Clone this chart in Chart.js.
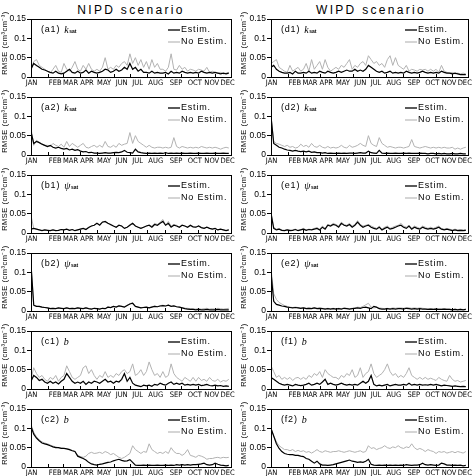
<!DOCTYPE html>
<html>
<head>
<meta charset="utf-8">
<script src="https://cdn.jsdelivr.net/npm/chart.js@4.4.1/dist/chart.umd.min.js"></script>
<style>
  body { margin: 0; background: #fff; width: 475px; height: 476px; position: relative; overflow: hidden; }
  .title { position: absolute; top: 3px; font: 12px "Liberation Sans", Arial, sans-serif; letter-spacing: 2.3px; text-align: center; width: 200px; }
  canvas { position: absolute; }
</style>
</head>
<body>
<div class="title" style="left:31px">NIPD scenario</div>
<div class="title" style="left:271px">WIPD scenario</div>

<script>
// sample days (every 5th day of the year)
const days = [1,6,11,16,21,26,31,36,41,46,51,56,61,66,71,76,81,86,91,96,101,106,111,116,121,126,131,136,141,146,151,156,161,166,171,176,181,186,191,196,201,206,211,216,221,226,231,236,241,246,251,256,261,266,271,276,281,286,291,296,301,306,311,316,321,326,331,336,341,346,351,356,361];

const months = ['JAN','FEB','MAR','APR','MAY','JUN','JUL','AUG','SEP','OCT','NOV','DEC'];
const monthStarts = [1,32,60,91,121,152,182,213,244,274,305,335];
const monthLabelDays = [2,45,73,103,134,166,195,228,265,299,330,359];
const yTicks = [0, 0.05, 0.1, 0.15];

// NIPD scenario
const a1Est = [0.02,0.035,0.03,0.025,0.02,0.018, 0.015,0.012,0.01,0.015,0.01,0.008, 0.01,0.015,0.02,0.012,0.01,0.015, 0.01,0.012,0.018,0.01,0.015,0.012, 0.01,0.012,0.015,0.02,0.018,0.012, 0.015,0.02,0.015,0.018,0.025,0.02, 0.035,0.02,0.025,0.015,0.02,0.012, 0.012,0.01,0.015,0.01,0.012,0.01, 0.01,0.012,0.008,0.015,0.01,0.012, 0.01,0.015,0.012,0.01,0.012,0.01, 0.012,0.01,0.015,0.012,0.01,0.012, 0.01,0.012,0.01,0.008,0.01,0.008,0.01];
const a1NoEst = [0.02,0.04,0.045,0.03,0.025,0.02, 0.015,0.01,0.02,0.03,0.015,0.012, 0.035,0.02,0.015,0.025,0.04,0.02, 0.015,0.03,0.02,0.035,0.02,0.015, 0.02,0.015,0.025,0.05,0.02,0.025, 0.02,0.03,0.025,0.035,0.04,0.03, 0.06,0.035,0.05,0.03,0.045,0.025, 0.04,0.02,0.045,0.025,0.035,0.02, 0.02,0.015,0.025,0.06,0.02,0.018, 0.03,0.02,0.025,0.015,0.02,0.018, 0.015,0.02,0.018,0.015,0.025,0.012, 0.015,0.012,0.01,0.012,0.008,0.01,0.012];

const a2Est = [0.06,0.03,0.035,0.032,0.028,0.025, 0.022,0.025,0.02,0.018,0.02,0.017, 0.015,0.017,0.013,0.015,0.012,0.014, 0.01,0.008,0.009,0.006,0.007,0.005, 0.005,0.004,0.005,0.006,0.005,0.005, 0.006,0.007,0.006,0.008,0.012,0.007, 0.006,0.005,0.015,0.008,0.006,0.005, 0.004,0.005,0.004,0.005,0.004,0.005, 0.004,0.006,0.004,0.005,0.004,0.005, 0.004,0.005,0.004,0.004,0.005,0.004, 0.004,0.005,0.004,0.004,0.005,0.004, 0.004,0.005,0.004,0.004,0.005,0.004,0.004];
const a2NoEst = [0.07,0.025,0.038,0.033,0.028,0.025, 0.025,0.022,0.03,0.025,0.022,0.028, 0.02,0.035,0.022,0.03,0.025,0.02, 0.025,0.03,0.02,0.018,0.022,0.025, 0.02,0.025,0.02,0.035,0.022,0.02, 0.025,0.02,0.03,0.025,0.028,0.03, 0.058,0.03,0.05,0.035,0.03,0.025, 0.02,0.025,0.02,0.018,0.02,0.02, 0.018,0.02,0.018,0.02,0.045,0.022, 0.018,0.022,0.02,0.018,0.02,0.018, 0.02,0.018,0.022,0.02,0.018,0.02, 0.018,0.02,0.018,0.015,0.018,0.02,0.018];

const b1Est = [0.01,0.012,0.01,0.008,0.006,0.008, 0.007,0.006,0.008,0.006,0.007,0.009, 0.008,0.01,0.007,0.009,0.006,0.008, 0.01,0.012,0.009,0.014,0.018,0.02, 0.025,0.02,0.028,0.03,0.025,0.022, 0.018,0.015,0.02,0.018,0.012,0.015, 0.02,0.025,0.018,0.015,0.012,0.015, 0.018,0.02,0.015,0.022,0.02,0.025, 0.03,0.02,0.025,0.015,0.02,0.018, 0.015,0.02,0.018,0.015,0.02,0.016, 0.015,0.018,0.014,0.012,0.015,0.012, 0.01,0.012,0.008,0.01,0.008,0.006,0.008];
const b1NoEst = [0.045,0.012,0.01,0.008,0.006,0.008, 0.007,0.006,0.008,0.006,0.007,0.009, 0.008,0.01,0.007,0.009,0.006,0.008, 0.01,0.012,0.01,0.015,0.018,0.02, 0.025,0.022,0.03,0.028,0.025,0.02, 0.018,0.015,0.02,0.018,0.012,0.015, 0.022,0.025,0.018,0.015,0.012,0.015, 0.018,0.02,0.018,0.025,0.022,0.028, 0.035,0.02,0.03,0.018,0.022,0.02, 0.015,0.02,0.018,0.015,0.018,0.016, 0.015,0.018,0.014,0.012,0.015,0.012, 0.01,0.012,0.008,0.01,0.008,0.006,0.008];

const b2Est = [0.12,0.015,0.012,0.012,0.01,0.009, 0.008,0.006,0.007,0.006,0.008,0.007, 0.006,0.008,0.006,0.007,0.006,0.008, 0.007,0.006,0.008,0.006,0.005,0.007, 0.006,0.005,0.007,0.006,0.01,0.009, 0.012,0.01,0.013,0.012,0.01,0.014, 0.018,0.02,0.012,0.01,0.008,0.009, 0.01,0.008,0.01,0.012,0.011,0.013, 0.014,0.013,0.015,0.012,0.013,0.011, 0.01,0.008,0.006,0.005,0.004,0.004, 0.003,0.004,0.003,0.003,0.004,0.003, 0.003,0.003,0.004,0.003,0.003,0.003,0.003];
const b2NoEst = [0.12,0.014,0.012,0.011,0.01,0.009, 0.008,0.007,0.007,0.006,0.008,0.007, 0.006,0.009,0.006,0.007,0.006,0.009, 0.007,0.006,0.009,0.006,0.005,0.007, 0.006,0.005,0.007,0.006,0.011,0.009, 0.012,0.011,0.013,0.012,0.01,0.015, 0.019,0.021,0.012,0.01,0.008,0.01, 0.01,0.008,0.011,0.013,0.011,0.014, 0.015,0.013,0.016,0.012,0.013,0.011, 0.01,0.009,0.007,0.007,0.006,0.006, 0.005,0.006,0.005,0.006,0.007,0.005, 0.006,0.005,0.007,0.006,0.005,0.006,0.007];

const c1Est = [0.02,0.035,0.03,0.022,0.025,0.018, 0.015,0.02,0.015,0.018,0.013,0.02, 0.025,0.04,0.03,0.02,0.015,0.018, 0.015,0.02,0.012,0.018,0.015,0.02, 0.018,0.015,0.02,0.025,0.018,0.02, 0.015,0.02,0.018,0.025,0.04,0.02, 0.03,0.015,0.01,0.008,0.006,0.01, 0.008,0.01,0.007,0.012,0.01,0.015, 0.012,0.01,0.015,0.018,0.012,0.015, 0.012,0.015,0.01,0.012,0.01,0.012, 0.01,0.012,0.009,0.01,0.012,0.009, 0.008,0.01,0.008,0.009,0.007,0.008,0.007];
const c1NoEst = [0.025,0.055,0.04,0.03,0.035,0.025, 0.02,0.03,0.025,0.035,0.02,0.03, 0.035,0.06,0.045,0.03,0.025,0.03, 0.035,0.055,0.06,0.04,0.05,0.035, 0.025,0.035,0.03,0.045,0.03,0.035, 0.03,0.04,0.035,0.045,0.05,0.04, 0.045,0.065,0.035,0.04,0.05,0.035, 0.045,0.07,0.05,0.035,0.04,0.03, 0.045,0.03,0.035,0.065,0.04,0.03, 0.025,0.02,0.03,0.025,0.02,0.03, 0.02,0.03,0.022,0.025,0.02,0.03, 0.022,0.02,0.025,0.018,0.022,0.02,0.025];

const c2Est = [0.105,0.085,0.075,0.068,0.062,0.06, 0.058,0.055,0.052,0.05,0.05,0.048, 0.048,0.047,0.045,0.042,0.04,0.028, 0.025,0.022,0.018,0.012,0.008,0.006, 0.005,0.007,0.008,0.01,0.012,0.013, 0.016,0.018,0.02,0.017,0.015,0.016, 0.019,0.012,0.005,0.004,0.004,0.005, 0.004,0.005,0.004,0.004,0.005,0.004, 0.004,0.005,0.004,0.005,0.004,0.006, 0.005,0.006,0.005,0.006,0.005,0.006, 0.006,0.007,0.008,0.01,0.006,0.005, 0.006,0.01,0.007,0.005,0.004,0.003,0.004];
const c2NoEst = [0.11,0.09,0.078,0.07,0.065,0.062, 0.06,0.057,0.054,0.052,0.05,0.049, 0.048,0.047,0.046,0.043,0.04,0.03, 0.027,0.025,0.028,0.035,0.038,0.035, 0.036,0.038,0.035,0.04,0.037,0.032, 0.035,0.03,0.025,0.022,0.025,0.03, 0.035,0.055,0.045,0.04,0.035,0.04, 0.038,0.06,0.045,0.04,0.035,0.038, 0.035,0.04,0.035,0.05,0.04,0.035, 0.035,0.03,0.035,0.045,0.03,0.028, 0.025,0.03,0.028,0.025,0.02,0.022, 0.022,0.024,0.025,0.023,0.025,0.024,0.025];

// WIPD scenario
const d1Est = [0.025,0.03,0.02,0.015,0.012,0.01, 0.01,0.012,0.008,0.015,0.01,0.01, 0.012,0.01,0.015,0.01,0.012,0.01, 0.015,0.012,0.01,0.015,0.012,0.01, 0.012,0.015,0.012,0.015,0.018,0.015, 0.015,0.02,0.015,0.018,0.015,0.02, 0.03,0.025,0.02,0.015,0.012,0.015, 0.01,0.012,0.015,0.01,0.012,0.01, 0.012,0.01,0.015,0.012,0.01,0.012, 0.01,0.012,0.015,0.012,0.01,0.012, 0.01,0.012,0.01,0.015,0.012,0.01, 0.01,0.008,0.01,0.008,0.006,0.006,0.006];
const d1NoEst = [0.035,0.04,0.045,0.025,0.02,0.015, 0.012,0.03,0.015,0.02,0.025,0.015, 0.02,0.035,0.015,0.045,0.02,0.03, 0.04,0.02,0.045,0.025,0.015,0.02, 0.025,0.02,0.03,0.025,0.035,0.045, 0.02,0.03,0.025,0.035,0.04,0.03, 0.055,0.045,0.035,0.04,0.03,0.035, 0.025,0.045,0.055,0.03,0.05,0.03, 0.025,0.02,0.03,0.015,0.02,0.018, 0.015,0.02,0.018,0.02,0.015,0.02, 0.015,0.02,0.012,0.03,0.015,0.012, 0.01,0.012,0.008,0.01,0.008,0.01,0.008];

const d2Est = [0.1,0.03,0.025,0.02,0.018,0.015, 0.013,0.012,0.01,0.012,0.01,0.009, 0.01,0.008,0.01,0.007,0.008,0.006, 0.006,0.005,0.006,0.004,0.005,0.004, 0.004,0.005,0.004,0.005,0.004,0.005, 0.005,0.004,0.005,0.006,0.005,0.005, 0.01,0.006,0.005,0.004,0.012,0.005, 0.004,0.005,0.004,0.004,0.005,0.004, 0.004,0.005,0.004,0.005,0.004,0.004, 0.004,0.005,0.004,0.004,0.003,0.004, 0.004,0.003,0.004,0.003,0.004,0.003, 0.003,0.004,0.003,0.003,0.004,0.003,0.003];
const d2NoEst = [0.1,0.035,0.03,0.028,0.025,0.022, 0.025,0.02,0.022,0.018,0.02,0.028, 0.022,0.025,0.02,0.03,0.022,0.02, 0.025,0.02,0.018,0.022,0.018,0.02, 0.018,0.02,0.025,0.02,0.018,0.025, 0.02,0.022,0.025,0.03,0.025,0.022, 0.05,0.03,0.025,0.022,0.045,0.03, 0.025,0.02,0.022,0.02,0.018,0.02, 0.02,0.018,0.02,0.022,0.04,0.022, 0.02,0.018,0.02,0.022,0.02,0.018, 0.02,0.018,0.02,0.018,0.02,0.018, 0.018,0.02,0.015,0.018,0.015,0.018,0.02];

const e1Est = [0.05,0.012,0.008,0.01,0.007,0.006, 0.008,0.006,0.007,0.009,0.006,0.008, 0.01,0.007,0.009,0.008,0.01,0.012, 0.008,0.015,0.01,0.02,0.018,0.022, 0.02,0.015,0.025,0.02,0.018,0.022, 0.015,0.02,0.028,0.02,0.015,0.018, 0.02,0.015,0.012,0.01,0.015,0.008, 0.012,0.015,0.01,0.012,0.015,0.018, 0.02,0.015,0.012,0.018,0.01,0.015, 0.012,0.01,0.015,0.012,0.01,0.012, 0.01,0.012,0.015,0.01,0.008,0.01, 0.008,0.006,0.008,0.006,0.007,0.006,0.007];
const e1NoEst = [0.055,0.015,0.01,0.012,0.008,0.007, 0.009,0.008,0.008,0.01,0.007,0.009, 0.012,0.008,0.01,0.009,0.012,0.014, 0.01,0.018,0.012,0.022,0.02,0.025, 0.022,0.018,0.028,0.022,0.02,0.025, 0.018,0.022,0.032,0.022,0.018,0.02, 0.022,0.018,0.015,0.012,0.018,0.01, 0.015,0.018,0.012,0.015,0.018,0.02, 0.025,0.018,0.015,0.02,0.012,0.018, 0.015,0.012,0.018,0.015,0.012,0.015, 0.012,0.015,0.018,0.012,0.01,0.012, 0.01,0.008,0.01,0.008,0.009,0.008,0.009];

const e2Est = [0.1,0.025,0.017,0.015,0.013,0.012, 0.01,0.009,0.008,0.009,0.008,0.007, 0.008,0.006,0.007,0.006,0.008,0.006, 0.007,0.006,0.005,0.006,0.005,0.006, 0.005,0.006,0.005,0.007,0.006,0.005, 0.006,0.007,0.008,0.007,0.009,0.01, 0.008,0.006,0.012,0.01,0.006,0.005, 0.005,0.006,0.005,0.006,0.005,0.006, 0.006,0.005,0.007,0.006,0.005,0.006, 0.005,0.006,0.005,0.005,0.004,0.005, 0.004,0.005,0.004,0.004,0.005,0.004, 0.004,0.003,0.004,0.003,0.004,0.003,0.004];
const e2NoEst = [0.11,0.045,0.03,0.022,0.018,0.014, 0.012,0.01,0.009,0.01,0.009,0.008, 0.009,0.007,0.008,0.007,0.009,0.007, 0.008,0.007,0.006,0.007,0.006,0.007, 0.006,0.007,0.006,0.008,0.007,0.006, 0.007,0.008,0.01,0.009,0.012,0.016, 0.02,0.01,0.008,0.009,0.008,0.007, 0.006,0.007,0.006,0.008,0.007,0.008, 0.008,0.007,0.009,0.008,0.007,0.008, 0.007,0.008,0.007,0.006,0.005,0.006, 0.005,0.006,0.005,0.005,0.006,0.005, 0.005,0.004,0.005,0.004,0.005,0.004,0.005];

const f1Est = [0.03,0.025,0.02,0.015,0.012,0.01, 0.012,0.01,0.008,0.012,0.01,0.009, 0.01,0.012,0.015,0.01,0.012,0.015, 0.012,0.018,0.025,0.012,0.015,0.012, 0.01,0.012,0.015,0.012,0.01,0.012, 0.01,0.012,0.01,0.015,0.02,0.015, 0.02,0.035,0.012,0.008,0.01,0.008, 0.01,0.012,0.008,0.01,0.012,0.01, 0.01,0.012,0.01,0.015,0.01,0.012, 0.01,0.012,0.01,0.011,0.01,0.012, 0.01,0.012,0.01,0.008,0.01,0.009, 0.008,0.007,0.008,0.007,0.006,0.007,0.006];
const f1NoEst = [0.06,0.045,0.03,0.035,0.025,0.03, 0.025,0.03,0.022,0.028,0.03,0.025, 0.03,0.025,0.035,0.03,0.04,0.035, 0.045,0.03,0.05,0.04,0.035,0.03, 0.03,0.025,0.035,0.03,0.04,0.035, 0.05,0.03,0.035,0.055,0.03,0.04, 0.045,0.065,0.04,0.03,0.035,0.04, 0.05,0.065,0.045,0.035,0.04,0.03, 0.035,0.03,0.04,0.055,0.035,0.03, 0.025,0.03,0.025,0.03,0.025,0.028, 0.025,0.022,0.03,0.025,0.022,0.02, 0.035,0.025,0.02,0.022,0.018,0.02,0.022];

const f2Est = [0.1,0.08,0.06,0.048,0.04,0.035, 0.033,0.032,0.032,0.03,0.03,0.028, 0.027,0.022,0.02,0.015,0.01,0.015, 0.008,0.005,0.005,0.004,0.005,0.006, 0.008,0.01,0.012,0.014,0.016,0.018, 0.015,0.014,0.012,0.013,0.012,0.015, 0.02,0.007,0.005,0.004,0.005,0.004, 0.005,0.004,0.005,0.004,0.005,0.004, 0.005,0.004,0.006,0.005,0.004,0.005, 0.005,0.006,0.01,0.006,0.005,0.006, 0.005,0.004,0.005,0.01,0.008,0.005, 0.005,0.004,0.005,0.004,0.005,0.003,0.004];
const f2NoEst = [0.1,0.08,0.065,0.055,0.05,0.045, 0.045,0.042,0.045,0.04,0.043,0.04, 0.042,0.038,0.04,0.036,0.04,0.045, 0.04,0.038,0.042,0.04,0.038,0.04, 0.04,0.042,0.04,0.038,0.04,0.042, 0.04,0.038,0.04,0.042,0.038,0.04, 0.055,0.048,0.05,0.045,0.048,0.05, 0.055,0.05,0.048,0.052,0.05,0.055, 0.05,0.048,0.052,0.05,0.06,0.05, 0.045,0.048,0.045,0.04,0.045,0.042, 0.04,0.035,0.04,0.038,0.04,0.036, 0.038,0.04,0.037,0.04,0.038,0.036,0.04];

const panels = [
  { id: 'a1', col: 0, row: 0, sym: 'k', est: a1Est, noEst: a1NoEst },
  { id: 'a2', col: 0, row: 1, sym: 'k', est: a2Est, noEst: a2NoEst },
  { id: 'b1', col: 0, row: 2, sym: 'ψ', est: b1Est, noEst: b1NoEst },
  { id: 'b2', col: 0, row: 3, sym: 'ψ', est: b2Est, noEst: b2NoEst },
  { id: 'c1', col: 0, row: 4, sym: 'b', est: c1Est, noEst: c1NoEst },
  { id: 'c2', col: 0, row: 5, sym: 'b', est: c2Est, noEst: c2NoEst },
  { id: 'd1', col: 1, row: 0, sym: 'k', est: d1Est, noEst: d1NoEst },
  { id: 'd2', col: 1, row: 1, sym: 'k', est: d2Est, noEst: d2NoEst },
  { id: 'e1', col: 1, row: 2, sym: 'ψ', est: e1Est, noEst: e1NoEst },
  { id: 'e2', col: 1, row: 3, sym: 'ψ', est: e2Est, noEst: e2NoEst },
  { id: 'f1', col: 1, row: 4, sym: 'b', est: f1Est, noEst: f1NoEst },
  { id: 'f2', col: 1, row: 5, sym: 'b', est: f2Est, noEst: f2NoEst },
];

const GRAY = '#b2b2b2';
const SANS = '"Liberation Sans", Arial, sans-serif';

// frame, month ticks, panel label, legend and y title
const decor = {
  id: 'decor',
  afterDraw(chart, args, opts) {
    const { ctx, chartArea: a, scales } = chart;
    ctx.save();
    ctx.strokeStyle = '#000';
    ctx.lineWidth = 1;
    ctx.strokeRect(Math.round(a.left) + 0.5, Math.round(a.top) + 0.5, Math.round(a.right - a.left), Math.round(a.bottom - a.top));
    ctx.beginPath();
    monthStarts.forEach(d => {
      const x = Math.round(scales.x.getPixelForValue(d)) + 0.5;
      ctx.moveTo(x, a.bottom);
      ctx.lineTo(x, a.bottom - 3);
    });
    ctx.stroke();

    ctx.fillStyle = '#000';
    ctx.textBaseline = 'middle';
    ctx.textAlign = 'left';
    ctx.letterSpacing = '0.8px';
    ctx.font = '9px ' + SANS;
    const lx = a.left + 10, ly = a.top + 11;
    const lab = '(' + opts.id + ')';
    ctx.fillText(lab, lx, ly);
    let sx = lx + ctx.measureText(lab).width + 4;
    ctx.letterSpacing = '0px';
    ctx.font = 'italic 10px "Liberation Serif", serif';
    ctx.fillText(opts.sym, sx, ly);
    if (opts.sym !== 'b') {
      sx += ctx.measureText(opts.sym).width + 0.5;
      ctx.font = 'bold 5px ' + SANS;
      ctx.fillText('sat', sx, ly + 2);
    }

    // legend
    ctx.letterSpacing = '0.8px';
    ctx.font = '9px ' + SANS;
    [['Estim.', '#000', 1.3, 11], ['No Estim.', GRAY, 1.1, 23]].forEach(([t, c, w, dy]) => {
      ctx.strokeStyle = c;
      ctx.lineWidth = w;
      ctx.beginPath();
      ctx.moveTo(a.right - 63, a.top + dy);
      ctx.lineTo(a.right - 51, a.top + dy);
      ctx.stroke();
      ctx.fillText(t, a.right - 50, a.top + dy);
    });

    // y axis title
    ctx.translate(opts.titleX, (a.top + a.bottom) / 2 - 5);
    ctx.rotate(-Math.PI / 2);
    ctx.textAlign = 'center';
    ctx.letterSpacing = '0.5px';
    ctx.font = '7.5px ' + SANS;
    ctx.fillText('RMSE (cm³cm⁻³)', 0, 0);
    ctx.restore();
  }
};

panels.forEach(p => {
  const cv = document.createElement('canvas');
  const w = p.col ? 238 : 237;
  cv.width = w;
  cv.height = 78;
  cv.style.left = (p.col ? 237 : 0) + 'px';
  cv.style.top = (12 + 78 * p.row) + 'px';
  document.body.appendChild(cv);

  const axisW = p.col ? 34 : 31;
  new Chart(cv.getContext('2d'), {
    type: 'line',
    data: {
      datasets: [
        { label: 'Estim.', data: days.map((d, i) => ({ x: d, y: p.est[i] })), borderColor: '#000', borderWidth: 1.2 },
        { label: 'No Estim.', data: days.map((d, i) => ({ x: d, y: p.noEst[i] })), borderColor: GRAY, borderWidth: 1 },
      ]
    },
    options: {
      responsive: false,
      animation: false,
      layout: { padding: { left: 0, right: w - 231, top: 7, bottom: 0 } },
      elements: { point: { radius: 0 }, line: { tension: 0 } },
      plugins: {
        legend: { display: false },
        tooltip: { enabled: false },
        decor: { id: p.id, sym: p.sym, titleX: p.col ? 7 : 5 }
      },
      scales: {
        x: {
          type: 'linear',
          min: 1,
          max: 365,
          afterBuildTicks: s => { s.ticks = monthLabelDays.map(v => ({ value: v })); },
          afterFit: s => { s.height = 13; },
          grid: { display: false, drawTicks: false },
          border: { display: true, color: '#000' },
          ticks: {
            autoSkip: false,
            maxRotation: 0,
            padding: 2,
            color: '#000',
            font: { family: '"DejaVu Sans Condensed"', size: 7.5 },
            callback: (v, i) => months[i]
          }
        },
        y: {
          min: 0,
          max: 0.15,
          afterBuildTicks: s => { s.ticks = yTicks.map(v => ({ value: v })); },
          afterFit: s => { s.width = axisW; },
          grid: { display: true, drawOnChartArea: false, drawTicks: true, tickLength: 4, color: '#000' },
          border: { display: true, color: '#000' },
          ticks: {
            padding: 1,
            color: '#000',
            font: { family: SANS, size: 8.5 },
            callback: v => String(v)
          }
        }
      }
    },
    plugins: [decor]
  });
});
</script>
</body>
</html>
